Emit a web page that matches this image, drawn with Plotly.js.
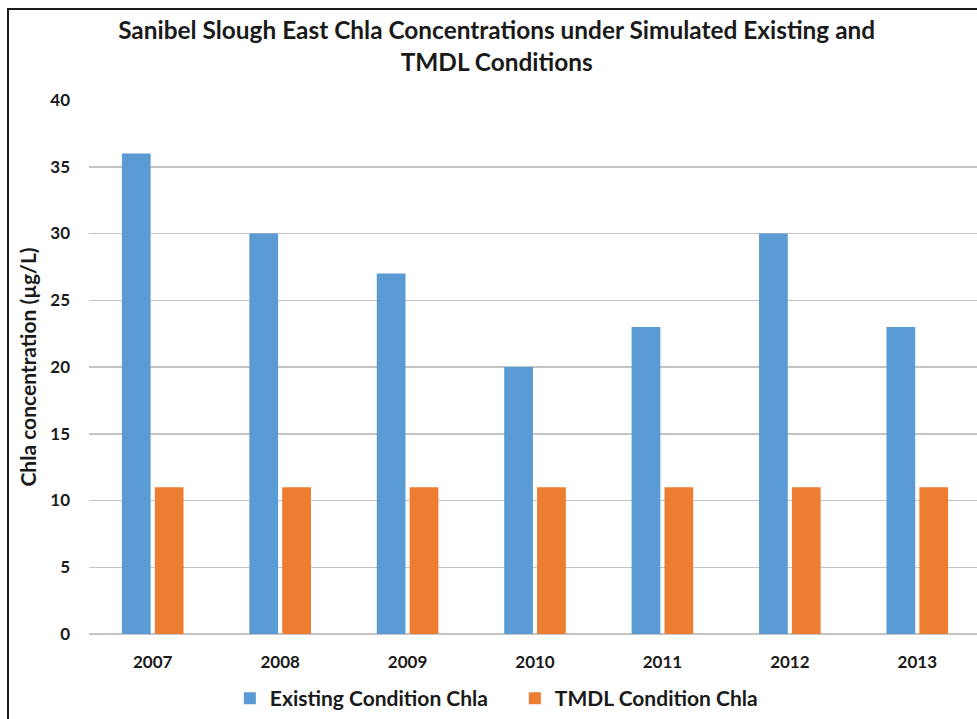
<!DOCTYPE html>
<html>
<head>
<meta charset="utf-8">
<script src="https://cdn.plot.ly/plotly-3.0.1.min.js"></script>
<style>
  html, body { margin: 0; padding: 0; background: #fff; overflow: hidden; width: 977px; height: 719px; }
  #chart { position: absolute; left: 0; top: 0; width: 981px; height: 719px; }
  #frame { position: absolute; left: 7px; top: 8px; width: 990px; height: 730px;
           border-left: 2px solid #1a1a1a; border-top: 2px solid #1a1a1a; pointer-events: none; }
</style>
</head>
<body>
<div id="chart"></div>
<div id="frame"></div>
<script>
const years = ['2007', '2008', '2009', '2010', '2011', '2012', '2013'];
const existingChla = [36, 30, 27, 20, 23, 30, 23];
const tmdlChla = [11, 11, 11, 11, 11, 11, 11];
const yTicks = [0, 5, 10, 15, 20, 25, 30, 35, 40];

const FONT = 'Lato, "Open Sans", sans-serif';

const traces = [
  { type: 'bar', name: 'Existing Condition Chla', x: years, y: existingChla,
    marker: { color: '#5B9BD5' }, hoverinfo: 'x+y' },
  { type: 'bar', name: 'TMDL Condition Chla', x: years, y: tmdlChla,
    marker: { color: '#ED7D31' }, hoverinfo: 'x+y' }
];

const layout = {
  width: 981, height: 719,
  margin: { l: 89, r: 0, t: 100, b: 85 },
  paper_bgcolor: '#ffffff', plot_bgcolor: '#ffffff',
  font: { family: FONT, color: '#1a1a1a' },
  title: {
    text: '<b>Sanibel Slough East Chla Concentrations under Simulated Existing and<br>TMDL Conditions</b>',
    font: { family: FONT, size: 24.4, color: '#1a1a1a' },
    x: 0.457, xref: 'paper', xanchor: 'center',
    y: 0.9456, yref: 'container', yanchor: 'middle'
  },
  barmode: 'group',
  bargap: 0.484,
  bargroupgap: 0.126,
  xaxis: {
    type: 'category',
    tickfont: { family: FONT, size: 17, color: '#1a1a1a', weight: 'bold' },
    showgrid: false, showline: false, zeroline: false,
    ticks: '', ticklabelstandoff: 16
  },
  yaxis: {
    range: [0, 40],
    tickvals: yTicks,
    ticktext: yTicks.map(String),
    tickfont: { family: FONT, size: 17, color: '#1a1a1a', weight: 'bold' },
    showgrid: true, gridcolor: '#c4c4c4', gridwidth: 1.5,
    zeroline: true, zerolinecolor: '#c4c4c4', zerolinewidth: 1.5,
    showline: false, ticks: '', ticklabelstandoff: 18,
    title: { text: '<b>Chla concentration (µg/L)</b>',
             font: { family: FONT, size: 21, color: '#1a1a1a' }, standoff: 7 }
  },
  showlegend: true,
  legend: {
    orientation: 'h', x: 0.4774, xanchor: 'center', xref: 'paper',
    y: 0.0, yref: 'container', yanchor: 'bottom',
    font: { family: FONT, size: 21, color: '#1a1a1a', weight: 'bold' },
    itemwidth: 30, tracegroupgap: 0, traceorder: 'normal',
    entrywidth: 240, entrywidthmode: 'pixels'
  }
};

Plotly.newPlot('chart', traces, layout, { displayModeBar: false, staticPlot: true });
</script>
</body>
</html>
